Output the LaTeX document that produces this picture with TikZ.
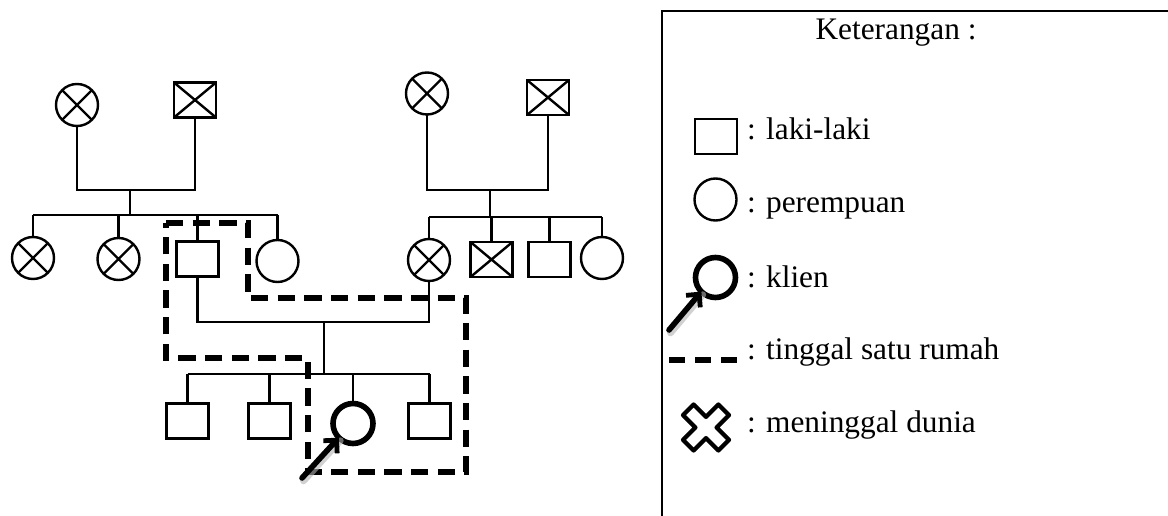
\documentclass[tikz,border=0pt]{standalone}
\usepackage{fontspec}
\setmainfont{Liberation Serif}
\usetikzlibrary{arrows.meta}
\begin{document}
\begin{tikzpicture}[x=0.75pt,y=-0.75pt,
  every node/.style={inner sep=0pt, outer sep=0pt},
  lw/.style={line width=1.8pt},
  link/.style={lw},
  male/.style={draw, lw, rectangle, minimum width=31.5pt, minimum height=26.25pt},
  female/.style={draw, lw, circle, minimum size=31.5pt},
  dead/.style={path picture={\draw[lw] (path picture bounding box.north west) -- (path picture bounding box.south east) (path picture bounding box.north east) -- (path picture bounding box.south west);}},
  clientc/.style={draw, circle, line width=4.2pt, minimum size=30pt},
  house/.style={line width=3.8pt, dash pattern=on 13pt off 7pt},
  ptarrow/.style={line width=4.2pt, line cap=round, -{Straight Barb[length=7pt,width=14pt,line width=3.6pt]}},
  shadowarrow/.style={line width=5pt, line cap=round, draw=black!30, opacity=0.6},
  legtext/.style={anchor=base west, font=\fontsize{23.5}{27}\selectfont},
]
\useasboundingbox (0,0) rectangle (1168,516);

% ---------- Generation 1 ----------
\node[female, dead] (gm1) at (77,105) {};
\node[male, dead] (gf1) at (195,100) {};
\node[female, dead] (gm2) at (427,93.5) {};
\node[male, dead] (gf2) at (548,97.5) {};

\coordinate (m1) at (130,190);
\coordinate (s1) at (130,215);
\coordinate (m2) at (490,190);
\coordinate (s2) at (490,217);

% ---------- Generation 2 ----------
\node[female, dead] (c1) at (33,258) {};
\node[female, dead] (c2) at (118.5,259) {};
\node[male] (father) at (197.5,259) {};
\node[female] (aunt1) at (277.5,261) {};

\node[female, dead] (mother) at (429,260) {};
\node[male, dead] (u1) at (491.5,259.5) {};
\node[male] (u2) at (549.5,259.5) {};
\node[female] (aunt2) at (602,258) {};

\coordinate (m3) at (324,322);
\coordinate (s3) at (324,374);

% ---------- Generation 3 ----------
\node[male] (k1) at (187.5,421) {};
\node[male] (k2) at (269.5,421) {};
\node[clientc] (client) at (353,423.5) {};
\node[male] (k4) at (429.5,421) {};

% ---------- connectors ----------
\draw[link] (gm1.south) -- (gm1.south |- m1) -- (gf1.south |- m1) -- (gf1.south);
\draw[link] (m1) -- (s1);
\draw[link] (c1.north |- s1) -- (aunt1.north |- s1);
\foreach \n in {c1,c2,father,aunt1} \draw[link] (\n.north) -- (\n.north |- s1);

\draw[link] (gm2.south) -- (gm2.south |- m2) -- (gf2.south |- m2) -- (gf2.south);
\draw[link] (m2) -- (s2);
\draw[link] (mother.north |- s2) -- (aunt2.north |- s2);
\foreach \n in {mother,u1,u2,aunt2} \draw[link] (\n.north) -- (\n.north |- s2);

\draw[link] (father.south) -- (father.south |- m3) -- (mother.south |- m3) -- (mother.south);
\draw[link] (m3) -- (s3);
\draw[link] (k1.north |- s3) -- (k4.north |- s3);
\foreach \n in {k1,k2,client,k4} \draw[link] (\n.north) -- (\n.north |- s3);

% household boundary
\draw[house] (166,223) -- (248,223) -- (248,298) -- (466,298) -- (466,472) -- (308,472) -- (308,358) -- (166,358) -- cycle;

% client arrow
\coordinate (ca) at (302,478);
\draw[shadowarrow] ([shift={(1.5,3)}]ca) -- ([shift={(1.5,3)}]client.225);
\draw[ptarrow] (ca) -- (client.225);

% ---------- legend ----------
\draw[lw] (1168,11) -- (662,11) -- (662,516);
\node[anchor=base, font=\fontsize{23.5}{27}\selectfont] (title) at (896,40) {Keterangan :};

\node[male] (lmale) at (716,136.5) {};
\node[legtext] (tmale) at (747,140) {: laki-laki};

\node[female] (lfemale) at (715.5,199.5) {};
\node[legtext] (tfemale) at (747,213) {: perempuan};

\node[clientc] (lclient) at (715.5,277.5) {};
\coordinate (la) at (669,330);
\draw[shadowarrow] ([shift={(1.5,3)}]la) -- ([shift={(1.5,3)}]lclient.225);
\draw[ptarrow] (la) -- (lclient.225);
\node[legtext] (tclient) at (747,288) {: klien};

\coordinate (ld1) at (669,360);
\coordinate (ld2) at (738,360);
\draw[line width=3.8pt, dash pattern=on 12pt off 7.5pt] (ld1) -- (ld2);
\node[legtext] (thouse) at (747,360) {: tinggal satu rumah};

\draw[line width=3.2pt, line join=round, shift={(706,427.5)}, rotate=45]
  (-7.5,-25) -- (7.5,-25) -- (7.5,-7.5) -- (25,-7.5) -- (25,7.5) -- (7.5,7.5) -- (7.5,25) -- (-7.5,25) -- (-7.5,7.5) -- (-25,7.5) -- (-25,-7.5) -- (-7.5,-7.5) -- cycle;
\node[legtext] (tdead) at (747,433) {: meninggal dunia};
\end{tikzpicture}
\end{document}
